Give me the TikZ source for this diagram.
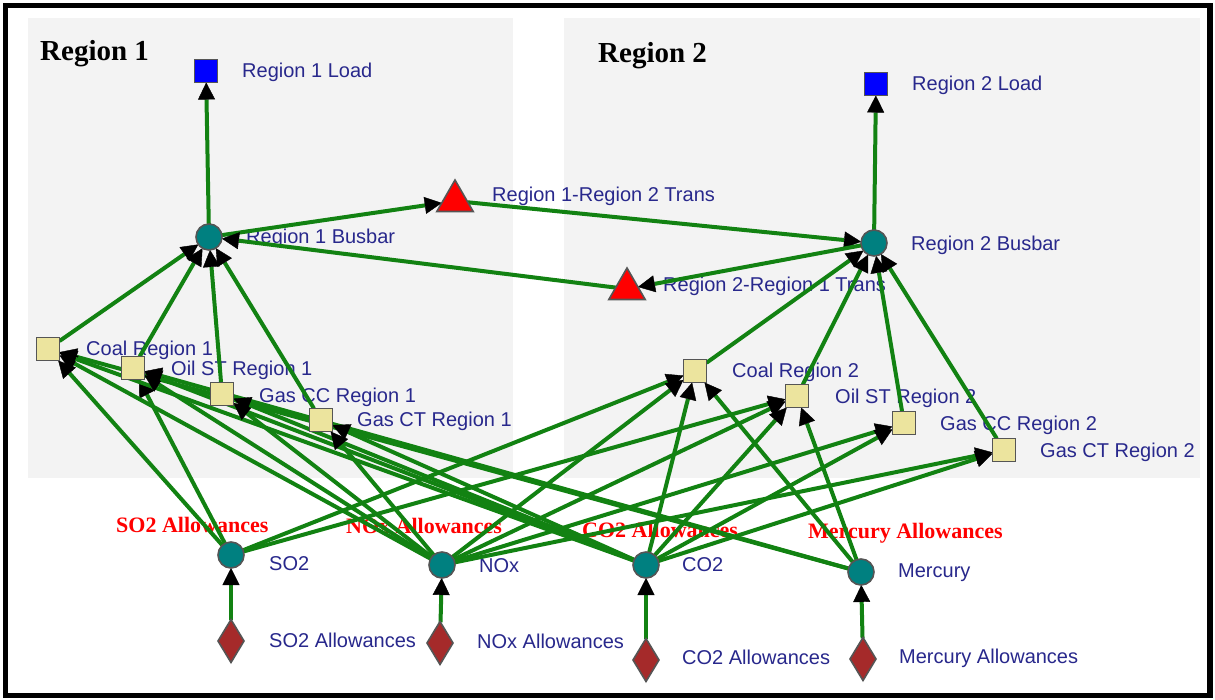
\documentclass[tikz,border=0pt]{standalone}
\usepackage{fontspec}
\setmainfont{Liberation Serif}
\setsansfont{Liberation Sans}
\usetikzlibrary{arrows.meta,shapes.geometric}

\pgfdeclarelayer{back}
\pgfdeclarelayer{edges}
\pgfsetlayers{back,edges,main}

\definecolor{flow}{RGB}{18,130,18}
\definecolor{panel}{RGB}{243,243,243}
\definecolor{labelblue}{RGB}{40,40,140}
\definecolor{busteal}{RGB}{0,128,128}
\definecolor{genkhaki}{RGB}{236,228,158}
\definecolor{allowred}{RGB}{165,42,42}
\definecolor{rim}{RGB}{85,85,85}

\tikzset{
  shapebase/.style={draw=rim, line width=1.6pt, inner sep=0pt, outer sep=0pt},
  loadbox/.style={shapebase, rectangle, fill=blue, minimum size=23pt},
  busdot/.style={shapebase, circle, fill=busteal, minimum size=26pt},
  genbox/.style={shapebase, rectangle, fill=genkhaki, minimum size=23pt},
  transtri/.style={shapebase, regular polygon, regular polygon sides=3, fill=red, minimum size=42pt},
  allowgem/.style={shapebase, diamond, fill=allowred, minimum width=26pt, minimum height=43pt},
  bluetag/.style={font=\sffamily\fontsize{20}{20}\selectfont, text=labelblue, anchor=base west, inner sep=0pt},
  regionname/.style={font=\bfseries\fontsize{29}{29}\selectfont, anchor=base west, inner sep=0pt},
  redtag/.style={font=\bfseries\fontsize{22}{22}\selectfont, text=red, anchor=base west, inner sep=0pt},
  flowline/.style={draw=flow, line width=4pt,
    -{Triangle[length=17pt,width=17pt,color=black,line width=0.4pt]}},
}

\begin{document}
\begin{tikzpicture}[x=1pt,y=-1pt]
\useasboundingbox (0,0) rectangle (1215,699);

% nodes of the network
\node[loadbox]  (load1) at (206,71)  {};
\node[busdot]   (bus1)  at (209,237) {};
\node[transtri] (t12)   at (455,201) {};
\node[transtri] (t21)   at (627,289) {};
\node[busdot]   (bus2)  at (874,243) {};
\node[loadbox]  (load2) at (876,84)  {};

\node[genbox] (coal1) at (48,349)  {};
\node[genbox] (oil1)  at (133,368) {};
\node[genbox] (cc1)   at (222,394) {};
\node[genbox] (ct1)   at (321,420) {};
\node[genbox] (coal2) at (695,371) {};
\node[genbox] (oil2)  at (797,396) {};
\node[genbox] (cc2)   at (904,423) {};
\node[genbox] (ct2)   at (1004,450) {};

\node[busdot] (so2) at (231,555) {};
\node[busdot] (nox) at (442,565) {};
\node[busdot] (co2) at (646,565) {};
\node[busdot] (hg)  at (861,572) {};

\node[allowgem] (so2a) at (231,641) {};
\node[allowgem] (noxa) at (440,643) {};
\node[allowgem] (co2a) at (646,660) {};
\node[allowgem] (hga)  at (863,659) {};

\begin{pgfonlayer}{back}
  % white page, panels and outer frame
  \fill[white] (0,0) rectangle (1215,699);
  \fill[panel] (28,18) rectangle (513,478);
  \fill[panel] (564,18) rectangle (1200,478);
  \draw[line width=5.5pt] (5.5,5.5) rectangle (1210,695.5);

  \node[regionname] (r1name) at (40,60) {Region 1};
  \node[regionname] (r2name) at (598,62) {Region 2};

  \node[bluetag] (l-load1) at (242,77)  {Region 1 Load};
  \node[bluetag] (l-bus1)  at (246,243) {Region 1 Busbar};
  \node[bluetag] (l-t12)   at (492,201) {Region 1-Region 2 Trans};
  \node[bluetag] (l-t21)   at (663,291) {Region 2-Region 1 Trans};
  \node[bluetag] (l-bus2)  at (911,250) {Region 2 Busbar};
  \node[bluetag] (l-load2) at (912,90)  {Region 2 Load};

  \node[bluetag] (l-coal1) at (86,355)  {Coal Region 1};
  \node[bluetag] (l-oil1)  at (171,375) {Oil ST Region 1};
  \node[bluetag] (l-cc1)   at (259,402) {Gas CC Region 1};
  \node[bluetag] (l-ct1)   at (357,426) {Gas CT Region 1};
  \node[bluetag] (l-coal2) at (732,377) {Coal Region 2};
  \node[bluetag] (l-oil2)  at (835,403) {Oil ST Region 2};
  \node[bluetag] (l-cc2)   at (940,430) {Gas CC Region 2};
  \node[bluetag] (l-ct2)   at (1040,457) {Gas CT Region 2};

  \node[bluetag] (l-so2) at (269,570) {SO2};
  \node[bluetag] (l-nox) at (479,572) {NOx};
  \node[bluetag] (l-co2) at (682,571) {CO2};
  \node[bluetag] (l-hg)  at (898,577) {Mercury};

  \node[bluetag] (l-so2a) at (269,647) {SO2 Allowances};
  \node[bluetag] (l-noxa) at (477,648) {NOx Allowances};
  \node[bluetag] (l-co2a) at (682,664) {CO2 Allowances};
  \node[bluetag] (l-hga)  at (899,663) {Mercury Allowances};

  \node[redtag] (n-so2) at (116,532) {SO2 Allowances};
  \node[redtag] (n-nox) at (346,533) {NOx Allowances};
  \node[redtag] (n-co2) at (582,537) {CO2 Allowances};
  \node[redtag] (n-hg)  at (808,538) {Mercury Allowances};
\end{pgfonlayer}

\begin{pgfonlayer}{edges}
  % transmission and load
  \draw[flowline] (bus1) -- (load1);
  \draw[flowline] (bus2) -- (load2);
  \draw[flowline] (bus1) -- (t12);
  \draw[flowline] (t12) -- (bus2);
  \draw[flowline] (bus2) -- (t21);
  \draw[flowline] (t21) -- (bus1);
  % generation into the busbars
  \foreach \g in {coal1,oil1,cc1,ct1} \draw[flowline] (\g) -- (bus1);
  \foreach \g in {coal2,oil2,cc2,ct2} \draw[flowline] (\g) -- (bus2);
  % allowances into emission constraints
  \draw[flowline] (so2a) -- (so2);
  \draw[flowline] (noxa) -- (nox);
  \draw[flowline] (co2a) -- (co2);
  \draw[flowline] (hga) -- (hg);
  % emission constraints on generators
  \foreach \g in {coal1,oil1,coal2,oil2} {
    \draw[flowline] (so2) -- (\g);
    \draw[flowline] (hg) -- (\g);
  }
  \foreach \g in {coal1,oil1,cc1,ct1,coal2,oil2,cc2,ct2} {
    \draw[flowline] (nox) -- (\g);
    \draw[flowline] (co2) -- (\g);
  }
\end{pgfonlayer}
\end{tikzpicture}
\end{document}
